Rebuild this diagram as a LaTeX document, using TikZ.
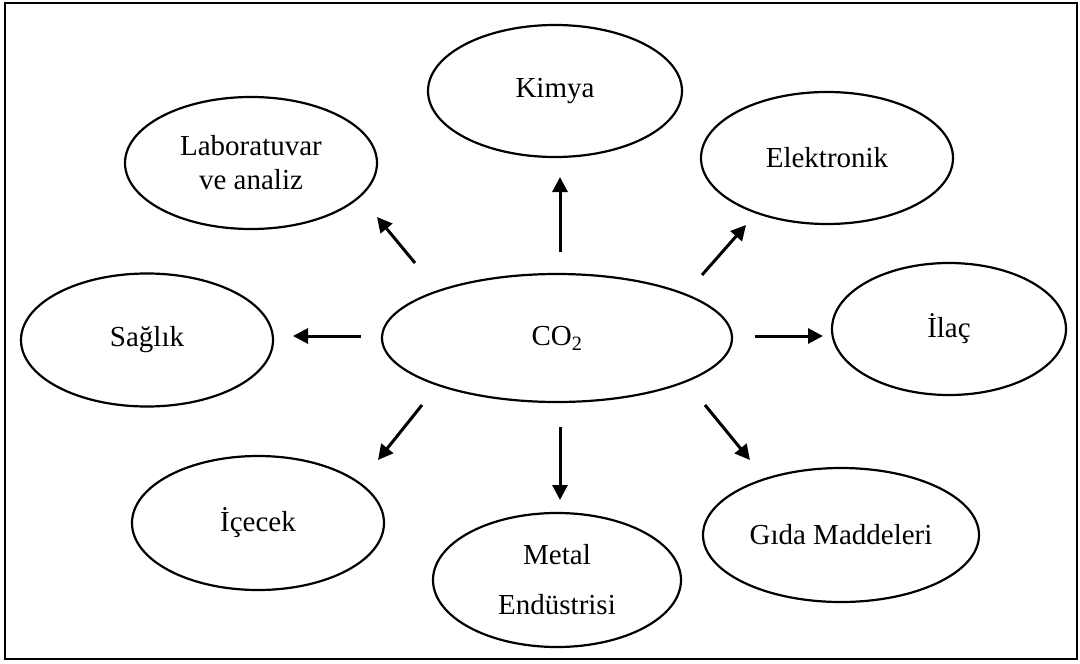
\documentclass[tikz,border=0pt]{standalone}
\usepackage{fontspec}
\setmainfont{Liberation Serif}
\usetikzlibrary{shapes.geometric,arrows.meta}
\begin{document}
\begin{tikzpicture}[x=1pt,y=-1pt,
  oval/.style={draw,ellipse,line width=2.2pt,inner sep=0pt,font=\fontsize{29}{34}\selectfont,align=center},
  arr/.style={line width=3pt,-{Triangle[length=15pt,width=15pt]}}]
\fill[white] (0,0) rectangle (1080,664);
\useasboundingbox (0,0) rectangle (1080,664);
\draw[line width=2pt] (5,3) rectangle (1077,659);
\node[oval,minimum width=350pt,minimum height=128pt] (co2) at (557,338) {CO\textsubscript{2}};
\node[oval,minimum width=254pt,minimum height=132pt] (kimya) at (555,91) {Kimya};
\node[oval,minimum width=252pt,minimum height=132pt] (lab) at (251,163) {Laboratuvar\\ve analiz};
\node[oval,minimum width=252pt,minimum height=132pt] (elek) at (827,158) {Elektronik};
\node[oval,minimum width=252pt,minimum height=133pt] (saglik) at (147,340) {Sağlık};
\node[oval,minimum width=234pt,minimum height=132pt] (ilac) at (949,329) {İlaç};
\node[oval,minimum width=252pt,minimum height=134pt] (icecek) at (258,523) {İçecek};
\node[oval,minimum width=276pt,minimum height=134pt] (gida) at (841,535) {Gıda Maddeleri};
\node[oval,minimum width=248pt,minimum height=134pt] (metal) at (557,580) {Metal\\[16pt]Endüstrisi};
% arrow end points
\coordinate (kT) at (560,252); \coordinate (kH) at (560,177);
\coordinate (eT) at (702,275); \coordinate (eH) at (746,225);
\coordinate (iT) at (755,336); \coordinate (iH) at (823,336);
\coordinate (gT) at (705,405); \coordinate (gH) at (750,460);
\coordinate (mT) at (560,427); \coordinate (mH) at (560,500);
\coordinate (cT) at (422,405); \coordinate (cH) at (378,460);
\coordinate (sT) at (361,336); \coordinate (sH) at (293,336);
\coordinate (lT) at (415,263); \coordinate (lH) at (377,217);
\draw[arr] (kT) -- (kH);
\draw[arr] (eT) -- (eH);
\draw[arr] (iT) -- (iH);
\draw[arr] (gT) -- (gH);
\draw[arr] (mT) -- (mH);
\draw[arr] (cT) -- (cH);
\draw[arr] (sT) -- (sH);
\draw[arr] (lT) -- (lH);
\end{tikzpicture}
\end{document}
